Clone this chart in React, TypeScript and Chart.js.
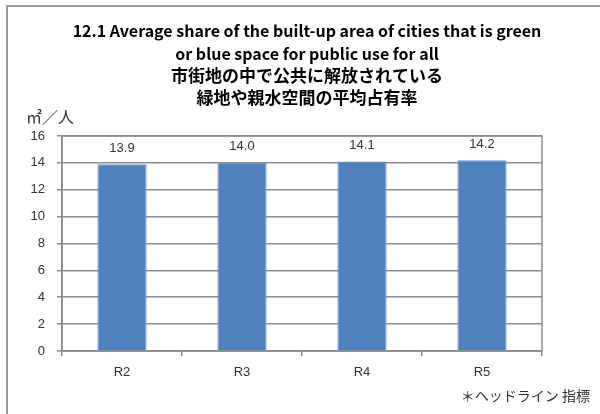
import React, { useEffect, useRef } from "react";
import { Chart, registerables } from "chart.js";

Chart.register(...registerables);

const categories = ["R2", "R3", "R4", "R5"];
const values = [13.9, 14.0, 14.1, 14.2];
const valueLabels = ["13.9", "14.0", "14.1", "14.2"];
const titleLines = [
  "12.1 Average share of the built-up area of cities that is green",
  "or blue space for public use for all",
];
const subtitleLines = ["市街地の中で公共に解放されている", "緑地や親水空間の平均占有率"];
const unitLabel = "㎡／人";
const footnote = "＊ヘッドライン 指標";

const GRID = "#8c8c8c";
const TEXT = "#333333";

const decorPlugin = {
  id: "decor",
  afterDraw(chart: any) {
    const { ctx, chartArea } = chart;
    ctx.save();
    ctx.strokeStyle = GRID;
    ctx.lineWidth = 1.5;
    ctx.strokeRect(chartArea.left, chartArea.top, chartArea.right - chartArea.left, chartArea.bottom - chartArea.top);
    ctx.fillStyle = TEXT;
    ctx.font = "13px 'Liberation Sans', sans-serif";
    ctx.textAlign = "center";
    ctx.textBaseline = "middle";
    const meta = chart.getDatasetMeta(0);
    meta.data.forEach((bar: any, i: number) => {
      ctx.fillText(valueLabels[i], bar.x, bar.y - 16);
    });
    ctx.textAlign = "left";
    ctx.font = "16px 'Noto Sans CJK JP', sans-serif";
    ctx.fillText(unitLabel, chartArea.left - 36, chartArea.top - 19);
    ctx.textAlign = "right";
    ctx.font = "14px 'Noto Sans CJK JP', sans-serif";
    ctx.fillText(footnote, chart.width - 10, chart.height - 18);
    ctx.restore();
  },
};

export default function App() {
  const ref = useRef<HTMLCanvasElement>(null);
  useEffect(() => {
    const chart = new Chart(ref.current!, {
      type: "bar",
      data: {
        labels: categories,
        datasets: [
          {
            data: values,
            backgroundColor: "#4F81BD",
            borderColor: "#6f97c9",
            borderWidth: 1,
            categoryPercentage: 1,
            barPercentage: 0.41,
          },
        ],
      },
      options: {
        animation: false,
        responsive: false,
        layout: { padding: { left: 14, right: 0, top: 0, bottom: 0 } },
        plugins: {
          legend: { display: false },
          tooltip: { enabled: false },
          title: {
            display: true,
            text: titleLines,
            color: "#000",
            font: { family: "'Noto Sans CJK JP', sans-serif", size: 16, weight: "bold", lineHeight: 1.4 },
            padding: { top: 20, bottom: 0 },
          },
          subtitle: {
            display: true,
            text: subtitleLines,
            color: "#000",
            font: { family: "'Noto Sans CJK JP', sans-serif", size: 17, weight: "bold", lineHeight: 1.27 },
            padding: { top: 0, bottom: 28 },
          },
        },
        scales: {
          x: {
            grid: { drawOnChartArea: false, drawTicks: true, tickLength: 5, color: GRID, lineWidth: 1.5 },
            border: { color: GRID, width: 1.5 },
            ticks: { color: TEXT, font: { family: "'Liberation Sans', sans-serif", size: 13 }, padding: 9 },
            afterFit(scale: any) {
              scale.height = 63;
            },
          },
          y: {
            min: 0,
            max: 16,
            ticks: { stepSize: 2, color: TEXT, font: { family: "'Liberation Sans', sans-serif", size: 13 }, padding: 12 },
            grid: { color: GRID, lineWidth: 1.5, tickLength: 5 },
            border: { color: GRID, width: 1.5 },
            afterFit(scale: any) {
              scale.width = 48;
            },
          },
          yRight: {
            position: "right",
            min: 0,
            max: 16,
            ticks: { display: false },
            grid: { drawOnChartArea: false, drawTicks: false },
            border: { display: false },
            afterFit(scale: any) {
              scale.width = 58;
            },
          },
        },
      },
      plugins: [decorPlugin],
    } as any);
    return () => chart.destroy();
  }, []);
  return (
    <div style={{ position: "fixed", left: 0, top: 0, width: 600, height: 414, background: "#fff", overflow: "hidden" }}>
      <div
        style={{
          position: "absolute",
          left: 6,
          top: 5,
          width: 620,
          height: 440,
          border: "2px solid #9a9a9a",
          boxSizing: "border-box",
        }}
      />
      <canvas ref={ref} width={600} height={414} style={{ position: "absolute", left: 0, top: 0 }} />
    </div>
  );
}
